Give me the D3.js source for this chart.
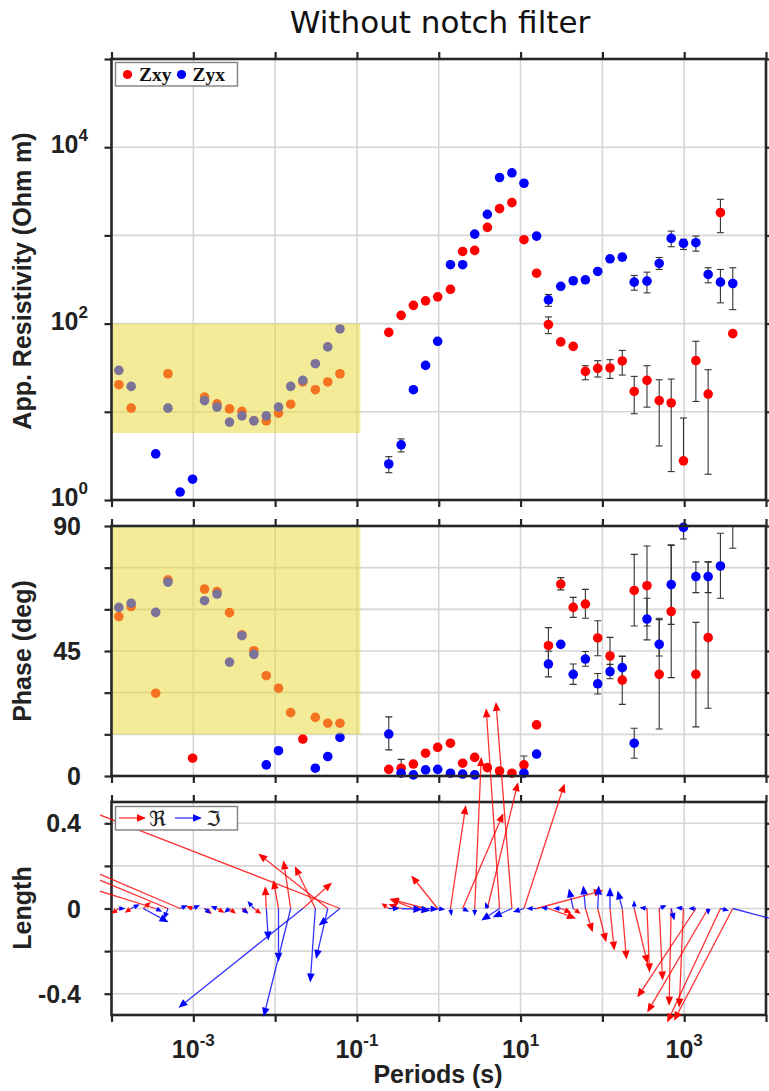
<!DOCTYPE html>
<html>
<head>
<meta charset="utf-8">
<script src="https://cdn.jsdelivr.net/npm/d3@7"></script>
<style>
  body { margin: 0; background: #fff; }
  svg { display: block; }
</style>
</head>
<body>
<div id="chart"></div>
<script>
//periods (s), one per sounding frequency
const periods = [1.23e-4, 1.74e-4, 2.45e-4, 3.47e-4, 4.9e-4, 6.9e-4, 9.8e-4, 1.37e-3, 1.95e-3, 2.77e-3,
  3.93e-3, 5.5e-3, 7.8e-3, 0.011, 0.0155, 0.0218, 0.031, 0.044, 0.062, 0.245,
  0.347, 0.49, 0.69, 0.97, 1.39, 1.96, 2.75, 3.93, 5.54, 7.84,
  11.0, 15.7, 21.9, 31, 44, 62, 87.7, 124, 175, 245,
  351, 495, 694, 980, 1390, 1963, 2773, 3925];

//apparent resistivity (Ohm m)
const rhoXY = [20.3, 11.0, null, null, 27.0, null, null, 14.7, 12.3, 10.8,
  10.1, 7.96, 7.9, 9.67, 12.2, 21.8, 17.8, 21.8, 27.0, 79.6,
  124, 161, 181, 201, 245, 658, 676, 1233, 2010, 2353,
  894, 373, 97.4, 62, 55.2, 28.7, 31.1, 31.4, 37.7, 17.0,
  22.7, 13.4, 12.6, 2.78, 38.0, 15.9, 1811, 77];
const rhoYX = [29.5, 19.4, null, 3.33, 11.0, 1.23, 1.72, 13.4, 11.3, 7.64,
  9.0, 7.9, 9.0, 11.3, 19.4, 22.7, 35.1, 54.4, 87, 2.56,
  4.22, 17.8, 33.6, 63, 465, 465, 1035, 1733, 4530, 5110,
  3900, 982, 186, 265, 306, 314, 390, 543, 567, 295,
  303, 481, 925, 811, 826, 361, 295, 285];

//error bars [index, low, high]
const rhoXYErr = [[32, 77, 119], [35, 23.1, 33.3], [36, 24.8, 38], [37, 23.9, 39], [38, 26.1, 49.7],
  [39, 9.5, 25.2], [40, 11.3, 33.3], [41, 4.1, 23.1], [42, 2.1, 23.5], [43, null, 8.5],
  [44, 13.1, 63], [45, 1.96, 30], [46, 1073, 2565]];
const rhoYXErr = [[19, 2.04, 3.1], [20, 3.51, 4.93], [32, 157, 214], [38, 520, 615], [39, 239, 351],
  [40, 223, 383], [41, 411, 562], [42, 744, 1119], [43, 693, 901], [44, 663, 982],
  [45, 290, 430], [46, 172, 411], [47, 144, 430]];

//phase (deg)
const phaseXY = [57.4, 61.0, null, 29.8, 70.6, null, 6.4, 67.3, 66.4, 58.8,
  50.8, 45.1, 36.1, 31.6, 22.8, 13.3, 21.1, 19.0, 19.0, 2.4,
  2.8, 4.3, 8.2, 10.3, 11.8, 4.6, 6.7, 3.0, 1.8, 1.0,
  4.0, 18.4, 46.9, 69.1, 60.7, 61.9, 49.7, 43.2, 34.5, 66.8,
  68.5, 36.6, 59.2, null, 36.6, 49.8, null, null];
const phaseYX = [60.7, 62.2, null, 58.9, 69.8, null, null, 63.1, 65.5, 41.0,
  50.5, 43.8, 4.0, 9.1, null, null, 2.8, 7.0, 13.9, 15.1,
  1.0, 0.4, 2.2, 2.4, 1.0, 0.7, 0.4, null, null, null,
  1.0, 7.9, 40.3, 47.4, 36.6, 42.1, 33.2, 37.6, 39.0, 11.8,
  56.5, 47.4, 68.9, 89.5, 71.8, 71.8, 75.6, 96];
const phaseXYErr = [[30, 0.8, 7.2], [32, 40.4, 53.4], [33, 67.0, 71.4], [34, 57.1, 64.3], [35, 56.8, 67.2],
  [36, 43.3, 55.9], [37, 36.5, 49.9], [38, 25.8, 43.2], [39, 54, 79.8], [40, 54, 82.8],
  [41, 16.9, 56.3], [42, 35.4, 83.0], [44, 17.7, 55.3], [45, 24.4, 77.1]];
const phaseYXErr = [[19, 9.4, 21.3], [20, -4, 6.0], [32, 35.7, 44.9], [34, 33, 40.3], [35, 39.5, 44.8],
  [36, 29.5, 36.9], [37, 35, 40.2], [38, 35.3, 43], [39, 6.4, 17.2], [40, 49, 64],
  [41, 43.2, 56.8], [42, 54.6, 83.2], [43, 85.3, 93.7], [44, 66, 77.1], [45, 66, 77.1],
  [46, 64, 87.4], [47, 82, 110]];

//induction arrows (horizontal and vertical components, in Length units)
const tipReX = [-0.035, -0.03, 0.035, -0.353, -0.413, -0.469, -0.03, 0.035, 0.035, 0.03,
  0.03, 0.035, -0.005, -0.024, -0.034, 0.137, -0.096, -0.326, -1.224, -0.035,
  -0.06, -0.11, -0.17, -0.124, 0.072, 0.191, 0.031, 0.144, -0.063, -0.075,
  0.191, 0.312, 0.13, 0.05, 0.035, 0.034, 0.04, 0.02, 0.02, 0.063,
  0.012, 0.016, -0.01, -0.02, -0.275, -0.286, -0.25, -0.276];
const tipReY = [-0.025, -0.02, 0.03, 0.109, 0.172, 0.2, 0.01, -0.025, -0.02, -0.025,
  -0.02, -0.025, 0.105, 0.134, 0.226, 0.122, 0.198, 0.257, 0.477, 0.025,
  0.02, 0.045, 0.045, 0.155, 0.485, 0.447, 0.711, 0.593, 0.94, 0.97,
  0.587, 0.085, -0.047, -0.02, -0.025, -0.111, -0.158, -0.197, -0.24, -0.26,
  -0.3, -0.338, -0.456, -0.465, -0.417, -0.488, -0.535, -0.527];
const tipImX = [0.03, 0.04, 0.118, 0.03, -0.02, 0.035, 0.035, 0.03, -0.03, -0.025,
  0.03, -0.03, 0.01, 0, -0.127, -0.584, -0.024, -0.055, -0.1, 0.05,
  0.1, 0.08, 0.06, 0.035, 0.005, 0.03, 0, -0.01, -0.086, -0.09,
  -0.052, -0.048, -0.035, -0.035, -0.02, -0.01, 0.005, 0, -0.022, 0,
  -0.035, 0.035, 0.015, -0.035, -0.035, 0, 0.04, 0.3];
const tipImY = [0, 0.02, -0.064, -0.015, -0.05, 0.015, 0.015, -0.025, 0.01, -0.02,
  -0.025, 0.035, -0.15, -0.25, -0.508, -0.466, -0.347, -0.237, -0.08, 0,
  -0.005, -0.01, -0.003, -0.005, -0.035, -0.015, -0.035, 0.03, -0.056, -0.041,
  -0.017, 0, 0.005, 0, 0.094, 0.108, 0.108, 0.1, 0.085, 0.038,
  0.005, 0.015, -0.056, 0.005, 0, -0.03, -0.01, -0.08];

//shaded band (period range, resistivity range, phase range)
const bandPeriod = [1e-4, 0.11];
const bandRho = [5.75, 100];
const bandPhase = [15, 90];

//tick values
const decades = [1e-4, 1e-3, 1e-2, 1e-1, 1, 10, 100, 1e3, 1e4];
const xLabelExp = [-3, -1, 1, 3];
const rhoTicks = [1, 10, 100, 1e3, 1e4, 1e5];
const rhoLabelExp = [0, 2, 4];
const phaseTicks = [0, 15, 30, 45, 60, 75, 90];
const phaseLabels = [0, 45, 90];
const lengthTicks = [-0.4, -0.2, 0, 0.2, 0.4];
const lengthLabels = ["-0.4", "0", "0.4"];

//size
const width = 769;
const height = 1091;
const left = 111.5;
const right = 766;

const colXY = "#ff0000";
const colYX = "#0000ff";
const axisColor = "#262626";
const gridColor = "#d6d6d6";
const font = "'Liberation Sans', Arial, sans-serif";

//scales
const x = d3.scaleLog().domain([1e-4, 1e4]).range([left, right]);
const yRho = d3.scaleLog().domain([1, 1e5]).range([500, 59]);
const yPhase = d3.scaleLinear().domain([0, 90]).range([776, 526]);
const yLen = d3.scaleLinear().domain([-0.5, 0.5]).range([1015, 802]);

const svg = d3.select("#chart").append("svg")
  .attr("width", width).attr("height", height)
  .style("font-family", font);

const defs = svg.append("defs");
defs.append("clipPath").attr("id", "clipPhase").append("rect")
  .attr("x", left).attr("y", 526).attr("width", right - left).attr("height", 250);
defs.append("clipPath").attr("id", "clipArrows").append("rect")
  .attr("x", 100).attr("y", 0).attr("width", width - 100).attr("height", height);

//title
svg.append("text")
  .attr("x", 440).attr("y", 33)
  .attr("text-anchor", "middle")
  .style("font-family", "'DejaVu Sans', Verdana, sans-serif")
  .style("font-size", "31px")
  .style("fill", "#111")
  .text("Without notch filter");

//grid
function grid(g, y, yVals) {
  g.selectAll("line.gx").data(decades.slice(1, -1)).enter().append("line")
    .attr("x1", (d) => x(d)).attr("x2", (d) => x(d))
    .attr("y1", y.range()[1]).attr("y2", y.range()[0])
    .attr("stroke", gridColor).attr("stroke-width", 1.6);
  g.selectAll("line.gy").data(yVals).enter().append("line")
    .attr("x1", left).attr("x2", right)
    .attr("y1", (d) => y(d)).attr("y2", (d) => y(d))
    .attr("stroke", gridColor).attr("stroke-width", 1.6);
}

//box and outward ticks
function frame(g, y, yVals) {
  const top = y.range()[1], bottom = y.range()[0];
  const axes = [
    [d3.axisBottom(x).tickValues(decades), `translate(0,${bottom})`],
    [d3.axisTop(x).tickValues(decades), `translate(0,${top})`],
    [d3.axisLeft(y).tickValues(yVals), `translate(${left},0)`],
    [d3.axisRight(y).tickValues(yVals), `translate(${right},0)`],
  ];
  axes.forEach(([ax, tr]) => {
    const a = g.append("g").attr("transform", tr)
      .call(ax.tickSize(7).tickSizeOuter(0).tickFormat(""));
    a.select(".domain").remove();
    a.selectAll(".tick line").attr("stroke", axisColor).attr("stroke-width", 2.2);
  });
  g.append("rect")
    .attr("x", left).attr("y", top)
    .attr("width", right - left).attr("height", bottom - top)
    .attr("fill", "none").attr("stroke", axisColor).attr("stroke-width", 2.6);
}

function yTitle(text, cy) {
  svg.append("text")
    .attr("transform", `translate(31,${cy}) rotate(-90)`)
    .attr("text-anchor", "middle")
    .style("font-size", "25px").style("font-weight", "bold").style("fill", "#222")
    .text(text);
}

function powText(sel, exp) {
  sel.append("tspan").text("10");
  sel.append("tspan").attr("dy", -12).style("font-size", "17px").text(exp);
}

//dots with error bars
function dots(g, y, values, color) {
  const [lo, hi] = y.domain();
  const data = periods.map((p, i) => ({ p, v: values[i] }))
    .filter((d) => d.v != null && d.v >= lo && d.v <= hi);
  g.selectAll(null).data(data).enter().append("circle")
    .attr("cx", (d) => x(d.p)).attr("cy", (d) => y(d.v))
    .attr("r", 4.8).attr("fill", color);
}

function errorBars(g, y, values, errs) {
  const data = errs.map(([i, l, h]) => ({ p: periods[i], v: values[i], l, h }));
  const eb = g.selectAll(null).data(data).enter().append("g")
    .attr("stroke", "#333").attr("stroke-width", 1.1);
  eb.append("line")
    .attr("x1", (d) => x(d.p)).attr("x2", (d) => x(d.p))
    .attr("y1", (d) => y(d.l == null ? d.v : Math.max(d.l, y.domain()[0] * 0.5)))
    .attr("y2", (d) => y(d.h));
  eb.append("line")
    .attr("x1", (d) => x(d.p) - 3.5).attr("x2", (d) => x(d.p) + 3.5)
    .attr("y1", (d) => y(d.h)).attr("y2", (d) => y(d.h));
  eb.filter((d) => d.l != null && d.l > 0).append("line")
    .attr("x1", (d) => x(d.p) - 3.5).attr("x2", (d) => x(d.p) + 3.5)
    .attr("y1", (d) => y(d.l)).attr("y2", (d) => y(d.l));
}

//legend box
function legendBox(g, y0) {
  g.append("rect")
    .attr("x", 115.5).attr("y", y0).attr("width", 122).attr("height", 23.5)
    .attr("fill", "#fff").attr("stroke", "#808080").attr("stroke-width", 1.4);
}

//---------- resistivity panel
const gRho = svg.append("g");
grid(gRho, yRho, rhoTicks.slice(1, -1));
errorBars(gRho, yRho, rhoXY, rhoXYErr);
errorBars(gRho, yRho, rhoYX, rhoYXErr);
dots(gRho, yRho, rhoXY, colXY);
dots(gRho, yRho, rhoYX, colYX);
gRho.append("rect")
  .attr("x", x(bandPeriod[0])).attr("y", yRho(bandRho[1]))
  .attr("width", x(bandPeriod[1]) - x(bandPeriod[0]))
  .attr("height", yRho(bandRho[0]) - yRho(bandRho[1]))
  .attr("fill", "rgb(232,217,60)").attr("fill-opacity", 0.53);
frame(gRho, yRho, rhoTicks);
gRho.selectAll("text.yl").data(rhoLabelExp).enter().append("text")
  .attr("x", 88).attr("y", (d) => yRho(Math.pow(10, d)) + 6)
  .attr("text-anchor", "end")
  .style("font-size", "25px").style("font-weight", "bold").style("fill", "#222")
  .each(function (d) { powText(d3.select(this), d); });
yTitle("App. Resistivity (Ohm m)", 281);

legendBox(gRho, 62.5);
const leg1 = [
  { text: "Zxy", color: colXY, cx: 127.5, tx: 139 },
  { text: "Zyx", color: colYX, cx: 181.5, tx: 192.5 },
];
leg1.forEach((d) => {
  gRho.append("circle").attr("cx", d.cx).attr("cy", 74.5).attr("r", 4.6).attr("fill", d.color);
  gRho.append("text").attr("x", d.tx).attr("y", 81)
    .style("font-family", "'Liberation Serif', 'Times New Roman', serif")
    .style("font-size", "19.5px").style("font-weight", "bold").style("fill", "#111")
    .text(d.text);
});

//---------- phase panel
const gPh = svg.append("g");
grid(gPh, yPhase, phaseTicks.slice(1, -1));
const gPhErr = gPh.append("g").attr("clip-path", "url(#clipPhase)");
errorBars(gPhErr, yPhase, phaseXY, phaseXYErr);
errorBars(gPhErr, yPhase, phaseYX, phaseYXErr);
dots(gPh, yPhase, phaseXY, colXY);
dots(gPh, yPhase, phaseYX, colYX);
gPh.append("rect")
  .attr("x", x(bandPeriod[0]) - 1.5).attr("y", yPhase(bandPhase[1]))
  .attr("width", x(bandPeriod[1]) - x(bandPeriod[0]) + 1.5)
  .attr("height", yPhase(bandPhase[0]) - yPhase(bandPhase[1]))
  .attr("fill", "rgb(232,217,60)").attr("fill-opacity", 0.53);
frame(gPh, yPhase, phaseTicks);
gPh.selectAll("text.yl").data(phaseLabels).enter().append("text")
  .attr("x", 81).attr("y", (d) => yPhase(d) + 9)
  .attr("text-anchor", "end")
  .style("font-size", "25px").style("font-weight", "bold").style("fill", "#222")
  .text((d) => d);
yTitle("Phase (deg)", 651);

//---------- induction arrow panel
const gLen = svg.append("g");
grid(gLen, yLen, lengthTicks);
frame(gLen, yLen, lengthTicks);

const unit = yLen(0) - yLen(1); //pixels per Length unit
function arrowData(xs, ys, color) {
  return periods.map((p, i) => ({
    x0: x(p), y0: yLen(0),
    x1: x(p) + xs[i] * unit, y1: yLen(ys[i]),
    color,
  }));
}
function drawArrows(g, data) {
  data.forEach((d) => {
    const dx = d.x1 - d.x0, dy = d.y1 - d.y0;
    const len = Math.hypot(dx, dy);
    if (len < 0.5) return;
    const ux = dx / len, uy = dy / len;
    const hl = Math.min(9, Math.max(6, len * 0.6));
    const hw = hl * 0.42;
    const bx = d.x1 - ux * hl, by = d.y1 - uy * hl;
    g.append("line")
      .attr("x1", d.x0).attr("y1", d.y0).attr("x2", bx).attr("y2", by)
      .attr("stroke", d.color).attr("stroke-width", 1.3).attr("stroke-opacity", 0.8);
    g.append("path")
      .attr("d", `M${d.x1},${d.y1}L${bx - uy * hw},${by + ux * hw}L${bx + uy * hw},${by - ux * hw}Z`)
      .attr("fill", d.color);
  });
}
const gArrows = svg.append("g").attr("clip-path", "url(#clipArrows)");
drawArrows(gArrows, arrowData(tipReX, tipReY, colXY));
drawArrows(gArrows, arrowData(tipImX, tipImY, colYX));

legendBox(svg, 806.5);
drawArrows(svg, [
  { x0: 119, y0: 818, x1: 146, y1: 818, color: colXY },
  { x0: 175, y0: 818, x1: 202, y1: 818, color: colYX },
]);
[["ℜ", 149], ["ℑ", 206]].forEach(([t, tx]) => {
  svg.append("text").attr("x", tx).attr("y", 826)
    .style("font-family", "'DejaVu Serif', 'DejaVu Sans', serif")
    .style("font-size", "21px").style("fill", "#222").text(t);
});

svg.selectAll("text.ll").data(lengthLabels).enter().append("text")
  .attr("x", 81).attr("y", (d) => yLen(+d) + 9)
  .attr("text-anchor", "end")
  .style("font-size", "25px").style("font-weight", "bold").style("fill", "#222")
  .text((d) => d);
yTitle("Length", 908);

//x labels
svg.selectAll("text.xl").data(xLabelExp).enter().append("text")
  .attr("x", (d) => x(Math.pow(10, d))).attr("y", 1058)
  .attr("text-anchor", "middle")
  .style("font-size", "25px").style("font-weight", "bold").style("fill", "#222")
  .each(function (d) { powText(d3.select(this), d); });

svg.append("text")
  .attr("x", 438).attr("y", 1083)
  .attr("text-anchor", "middle")
  .style("font-size", "25px").style("font-weight", "bold").style("fill", "#222")
  .text("Periods (s)");
</script>
</body>
</html>
